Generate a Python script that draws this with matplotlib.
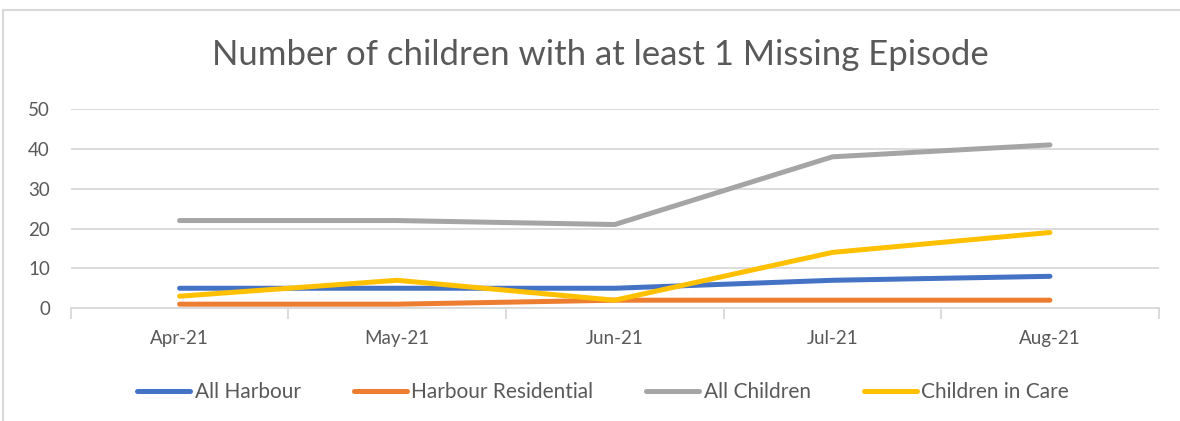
import numpy as np
import matplotlib.pyplot as plt
from matplotlib.patches import Rectangle

months = ["Apr-21", "May-21", "Jun-21", "Jul-21", "Aug-21"]
all_harbour = [5, 5, 5, 7, 8]
harbour_residential = [1, 1, 2, 2, 2]
all_children = [22, 22, 21, 38, 41]
children_in_care = [3, 7, 2, 14, 19]

series = [
    ("All Harbour", all_harbour, "#4472C4"),
    ("Harbour Residential", harbour_residential, "#ED7D31"),
    ("All Children", all_children, "#A5A5A5"),
    ("Children in Care", children_in_care, "#FFC000"),
]

plt.rcParams['font.family'] = ['Lato', 'DejaVu Sans']
txt = "#595959"
grid = "#D9D9D9"

fig = plt.figure(figsize=(11.8, 4.21), dpi=100)
# chart frame (Excel style)
fig.patches.append(Rectangle((3 / 1180, -0.1), 1.2, 1 - 10 / 421 + 0.1,
                             transform=fig.transFigure, fill=False,
                             edgecolor=grid, linewidth=1.5))

ax = fig.add_axes([0.060, 0.268, 0.922, 0.473])
x = np.arange(len(months))
for name, vals, col in series:
    ax.plot(x, vals, color=col, linewidth=3.6, solid_capstyle='round',
            solid_joinstyle='round', label=name)

ax.set_xlim(-0.5, len(months) - 0.5)
ax.set_ylim(0, 50)
ax.set_yticks(range(0, 51, 10))
ax.yaxis.grid(True, color=grid, linewidth=1.3)
ax.set_axisbelow(True)

ax.set_xticks(np.arange(-0.5, len(months), 1))
ax.set_xticklabels([])
ax.set_xticks(x, minor=True)
ax.set_xticklabels(months, minor=True)
ax.tick_params(axis='x', which='major', length=8, color=grid, width=1.3)
ax.tick_params(axis='x', which='minor', length=0, pad=16, labelsize=13.5, labelcolor=txt)
ax.tick_params(axis='y', length=0, pad=15, labelsize=13.5, labelcolor=txt)

for s in ['top', 'right', 'left']:
    ax.spines[s].set_visible(False)
ax.spines['bottom'].set_color(grid)
ax.spines['bottom'].set_linewidth(1.3)

fig.text(0.509, 0.869, "Number of children with at least 1 Missing Episode",
         ha='center', va='center', fontsize=25, color=txt)

fig.legend(loc='center', bbox_to_anchor=(0.511, 0.069), ncol=4, frameon=False,
           fontsize=15, labelcolor=txt, handlelength=2.55, handletextpad=0.2,
           columnspacing=2.55)

fig.savefig("out.png", dpi=100)
